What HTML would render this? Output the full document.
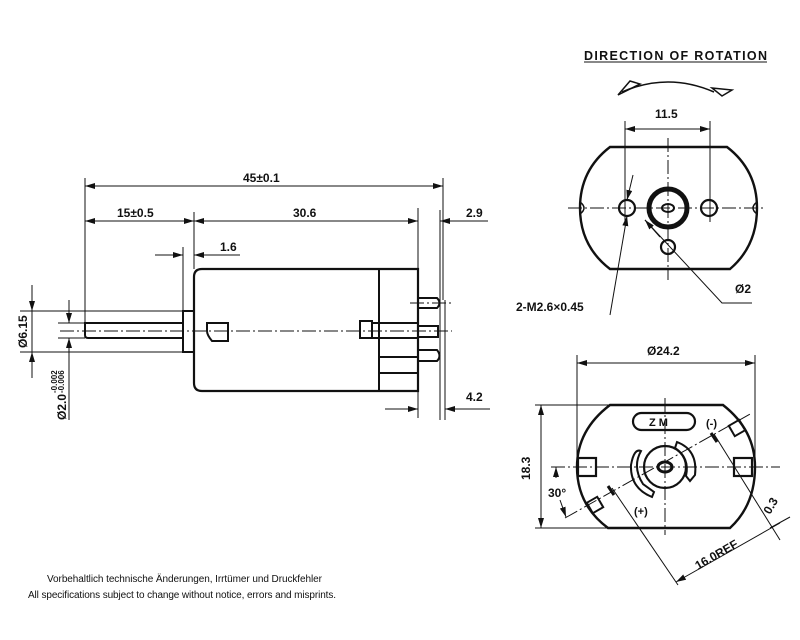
<!DOCTYPE html>
<html><head><style>
body{margin:0;background:#fff}
svg{display:block}
text{font-family:"Liberation Sans",Arial,sans-serif;font-weight:bold;fill:#111}
</style></head><body>
<svg width="800" height="640" viewBox="0 0 800 640" xmlns="http://www.w3.org/2000/svg">
<defs>
<marker id="a" viewBox="0 0 10 6" refX="10" refY="3" markerWidth="10" markerHeight="6" orient="auto-start-reverse" markerUnits="userSpaceOnUse"><path d="M0,0L10,3L0,6z" fill="#111"/></marker>
</defs>
<g stroke="#111" fill="none" stroke-width="1">
<!-- SIDE VIEW dims -->
<line x1="85" y1="178" x2="85" y2="335"/>
<line x1="443" y1="178" x2="443" y2="300"/>
<line x1="85" y1="186" x2="443" y2="186" marker-start="url(#a)" marker-end="url(#a)"/>
<line x1="194" y1="212" x2="194" y2="269"/>
<line x1="418" y1="208" x2="418" y2="418"/>
<line x1="440" y1="210" x2="440" y2="420"/>
<line x1="85" y1="221" x2="194" y2="221" marker-start="url(#a)" marker-end="url(#a)"/>
<line x1="194" y1="221" x2="418" y2="221" marker-start="url(#a)" marker-end="url(#a)"/>
<line x1="405" y1="221" x2="418" y2="221"/>
<line x1="440" y1="221" x2="488" y2="221"/>
<line x1="460" y1="221" x2="440" y2="221" marker-end="url(#a)"/>
<line x1="183" y1="247" x2="183" y2="311"/>
<line x1="155" y1="255" x2="183" y2="255" marker-end="url(#a)"/>
<line x1="240" y1="255" x2="194" y2="255" marker-end="url(#a)"/>
<!-- motor body -->
<path d="M202,269H418V391H202Q194,391 194,383V277Q194,269 202,269Z" stroke-width="2.2"/>
<line x1="379" y1="269" x2="379" y2="391" stroke-width="2"/>
<rect x="183" y="311" width="11" height="41" stroke-width="2"/>
<path d="M85,323H183V338H88Q85,338 85,335Z" stroke-width="2"/>
<path d="M207,323H228V341H212Q207,335 207,331Z" stroke-width="2"/>
<rect x="360" y="321" width="12" height="17" stroke-width="2"/>
<path d="M372,323H418M372,338H418M379,357H418M379,373H418" stroke-width="2"/>
<path d="M418,298H437Q442,303 437,308H418M418,350H437Q442,356 437,361H418M418,326H438V337H418" stroke-width="2"/>
<line x1="60" y1="331" x2="452" y2="331" stroke-dasharray="14,3,2,3"/>
<line x1="410" y1="303" x2="452" y2="303" stroke-dasharray="14,3,2,3"/>
<!-- Ø6.15 -->
<line x1="20" y1="311" x2="183" y2="311"/>
<line x1="20" y1="352" x2="183" y2="352"/>
<line x1="32" y1="285" x2="32" y2="311" marker-end="url(#a)"/>
<line x1="32" y1="378" x2="32" y2="352" marker-end="url(#a)"/>
<line x1="32" y1="311" x2="32" y2="352"/>
<line x1="58" y1="323" x2="85" y2="323"/>
<line x1="58" y1="338" x2="85" y2="338"/>
<line x1="69" y1="300" x2="69" y2="323" marker-end="url(#a)"/>
<line x1="69" y1="420" x2="69" y2="338" marker-end="url(#a)"/>
<!-- 4.2 -->
<line x1="385" y1="409" x2="418" y2="409" marker-end="url(#a)"/>
<line x1="490" y1="409" x2="445" y2="409" marker-end="url(#a)"/>
<line x1="445" y1="300" x2="445" y2="420"/>

<!-- TOP RIGHT VIEW -->
<line x1="584" y1="62" x2="767" y2="62"/>
<path d="M622,92Q668,72 714,92" stroke-width="1.5"/>
<path d="M618,95L630,81L640,84Z M712,88L732,90L722,96Z" stroke-width="1.5"/>
<line x1="625" y1="121" x2="625" y2="222"/>
<line x1="710" y1="121" x2="710" y2="222"/>
<line x1="625" y1="129" x2="710" y2="129" marker-start="url(#a)" marker-end="url(#a)"/>
<path d="M610,147H727Q757,170 757,208Q757,246 730,269H610Q580,246 580,208Q580,170 610,147Z" stroke-width="2.4"/>
<circle cx="627" cy="208" r="8" stroke-width="2.2"/>
<circle cx="709" cy="208" r="8" stroke-width="2.2"/>
<circle cx="668" cy="208" r="19" stroke-width="5"/>
<ellipse cx="668" cy="208" rx="6" ry="4" stroke-width="2"/>
<circle cx="668" cy="247" r="7" stroke-width="2.2"/>
<path d="M580,202Q588,208 580,214M757,202Q749,208 757,214" stroke-width="1.5"/>
<line x1="568" y1="208" x2="766" y2="208" stroke-dasharray="14,3,2,3"/>
<line x1="668" y1="138" x2="668" y2="280" stroke-dasharray="14,3,2,3"/>
<line x1="610" y1="315" x2="627" y2="216" marker-end="url(#a)"/>
<line x1="633" y1="175" x2="627" y2="200" marker-end="url(#a)"/>
<path d="M752,303H722L645,220" />
<line x1="660" y1="237" x2="645" y2="220" marker-end="url(#a)"/>

<!-- BOTTOM RIGHT VIEW -->
<line x1="577" y1="355" x2="577" y2="470"/>
<line x1="755" y1="355" x2="755" y2="470"/>
<line x1="577" y1="363" x2="755" y2="363" marker-start="url(#a)" marker-end="url(#a)"/>
<path d="M610,405H723Q755,430 755,467Q755,505 730,528H608Q577,505 577,467Q577,430 610,405Z" stroke-width="2.4"/>
<line x1="535" y1="405" x2="610" y2="405"/>
<line x1="535" y1="528" x2="610" y2="528"/>
<line x1="541" y1="405" x2="541" y2="528" marker-start="url(#a)" marker-end="url(#a)"/>
<rect x="633" y="413" width="62" height="17" rx="8.5" stroke-width="2.2"/>
<line x1="551" y1="467" x2="780" y2="467" stroke-dasharray="14,3,2,3"/>
<line x1="665" y1="398" x2="665" y2="535" stroke-dasharray="14,3,2,3"/>
<line x1="565" y1="518" x2="752" y2="413" stroke-dasharray="14,3,2,3"/>
<circle cx="665" cy="467" r="21" stroke-width="2.2"/>
<ellipse cx="665" cy="467" rx="7" ry="5" stroke-width="3"/>
<path d="M641,451Q632,467 643,484L654,492L652,497Q630,488 631,465Q634,448 641,451Z" stroke-width="2"/>
<path d="M677,442Q698,450 695,475L690,481L686,476Q690,458 675,448Z" stroke-width="2"/>
<rect x="578" y="458" width="18" height="18" stroke-width="2.2"/>
<rect x="734" y="458" width="18" height="18" stroke-width="2.2"/>
<rect x="589" y="499" width="12" height="12" transform="rotate(-30 595 505)" stroke-width="2"/>
<rect x="731" y="422" width="12" height="12" transform="rotate(-30 737 428)" stroke-width="2"/>
<line x1="556" y1="467" x2="556" y2="478" marker-start="url(#a)"/>
<line x1="560" y1="500" x2="566" y2="517" marker-end="url(#a)"/>
<line x1="612" y1="488" x2="678" y2="585"/>
<line x1="608" y1="486" x2="614" y2="495" stroke-width="3"/>
<line x1="714" y1="434" x2="780" y2="540"/>
<line x1="711" y1="433" x2="717" y2="442" stroke-width="3"/>
<line x1="676" y1="582" x2="780" y2="523" marker-start="url(#a)"/>
<line x1="790" y1="517" x2="770" y2="528"/>
</g>
<g font-size="12">
<text x="243" y="182">45±0.1</text>
<text x="117" y="217">15±0.5</text>
<text x="293" y="217">30.6</text>
<text x="466" y="217">2.9</text>
<text x="220" y="251">1.6</text>
<text x="466" y="401">4.2</text>
<text transform="translate(27,348) rotate(-90)">Ø6.15</text>
<text transform="translate(66,420) rotate(-90)">Ø2.0</text>
<text transform="translate(57,393) rotate(-90)" font-size="8">-0.002</text>
<text transform="translate(64,393) rotate(-90)" font-size="8">-0.006</text>
<text x="584" y="60" font-size="12.5" textLength="183">DIRECTION OF ROTATION</text>
<text x="655" y="118">11.5</text>
<text x="516" y="311">2-M2.6×0.45</text>
<text x="735" y="293">Ø2</text>
<text x="647" y="355">Ø24.2</text>
<text transform="translate(530,480) rotate(-90)">18.3</text>
<text x="649" y="426" font-size="11">Z M</text>
<text x="706" y="427" font-size="11">(-)</text>
<text x="634" y="515" font-size="11">(+)</text>
<text x="548" y="497">30°</text>
<text transform="translate(698,570) rotate(-30)">16.0REF</text>
<text transform="translate(770,515) rotate(-60)">0.3</text>
</g>
<g font-weight="normal" font-size="10">
<text x="47" y="582" style="font-weight:normal" textLength="275">Vorbehaltlich technische Änderungen, Irrtümer und Druckfehler</text>
<text x="28" y="598" style="font-weight:normal" textLength="308">All specifications subject to change without notice, errors and misprints.</text>
</g>
</svg>
</body></html>
